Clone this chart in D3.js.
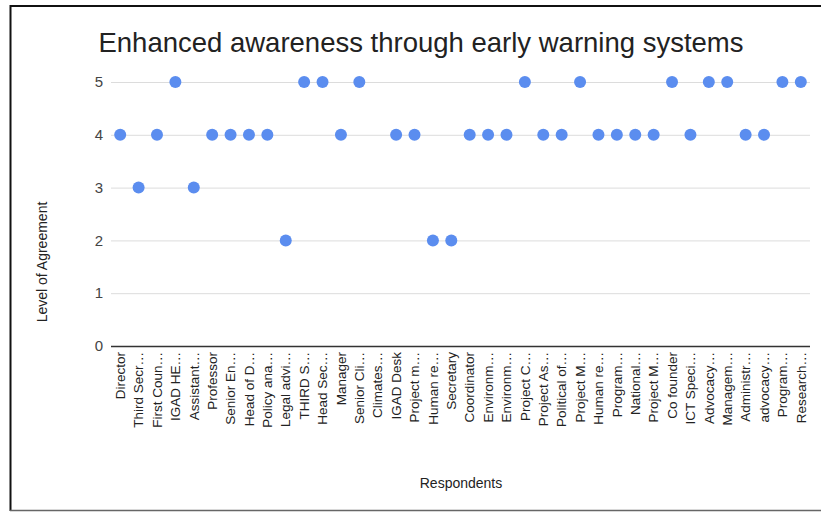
<!DOCTYPE html>
<html>
<head>
<meta charset="utf-8">
<script src="https://cdn.jsdelivr.net/npm/d3@7"></script>
<style>
  body { margin: 0; background: #fff; }
  svg { display: block; font-family: "Liberation Sans", Arial, sans-serif; }
</style>
</head>
<body>
<div id="chart"></div>
<script>
const respondents = [
  'Director', 'Third Secr…', 'First Coun…', 'IGAD HE…', 'Assistant…', 'Professor',
  'Senior En…', 'Head of D…', 'Policy ana…', 'Legal advi…', 'THIRD S…', 'Head Sec…',
  'Manager', 'Senior Cli…', 'Climates…', 'IGAD Desk', 'Project m…', 'Human re…',
  'Secretary', 'Coordinator', 'Environm…', 'Environm…', 'Project C…', 'Project As…',
  'Political of…', 'Project M…', 'Human re…', 'Program…', 'National…', 'Project M…',
  'Co founder', 'ICT Speci…', 'Advocacy…', 'Managem…', 'Administr…', 'advocacy…',
  'Program…', 'Research…'
];
const agreement = [
  4, 3, 4, 5, 3, 4, 4, 4, 4, 2, 5, 5,
  4, 5, null, 4, 4, 2, 2, 4, 4, 4, 5, 4,
  4, 5, 4, 4, 4, 4, 5, 4, 5, 5, 4, 4,
  5, 5
];
const yTicks = [0, 1, 2, 3, 4, 5];

const width = 821, height = 512;
const plotLeft = 111, plotRight = 810, plotTop = 82, plotBottom = 346;

const svg = d3.select('#chart').append('svg')
  .attr('width', width)
  .attr('height', height);

// frame
svg.append('line').attr('x1', 10.5).attr('x2', 10.5).attr('y1', 5).attr('y2', 511)
  .attr('stroke', '#111').attr('stroke-width', 2);
svg.append('line').attr('x1', 10).attr('x2', width).attr('y1', 6).attr('y2', 6)
  .attr('stroke', '#111').attr('stroke-width', 2);
svg.append('line').attr('x1', 10).attr('x2', width).attr('y1', 510.5).attr('y2', 510.5)
  .attr('stroke', '#666').attr('stroke-width', 1.5);

const x = d3.scalePoint()
  .domain(d3.range(respondents.length))
  .range([plotLeft, plotRight])
  .padding(0.5);
const y = d3.scaleLinear().domain([0, 5]).range([plotBottom, plotTop]);

// gridlines
svg.append('g').selectAll('line')
  .data(yTicks.filter(t => t > 0))
  .enter().append('line')
  .attr('x1', plotLeft).attr('x2', plotRight)
  .attr('y1', d => y(d) + 0.5).attr('y2', d => y(d) + 0.5)
  .attr('stroke', '#dcdcdc');

// y tick labels
svg.append('g').selectAll('text')
  .data(yTicks)
  .enter().append('text')
  .attr('x', 103)
  .attr('y', d => y(d))
  .attr('dy', '0.35em')
  .attr('text-anchor', 'end')
  .attr('font-size', 15)
  .attr('fill', '#444')
  .text(d => d);

// x axis baseline
svg.append('line')
  .attr('x1', plotLeft).attr('x2', plotRight)
  .attr('y1', plotBottom + 0.5).attr('y2', plotBottom + 0.5)
  .attr('stroke', '#333').attr('stroke-width', 1.5);

// x labels
svg.append('g').selectAll('text')
  .data(respondents)
  .enter().append('text')
  .attr('transform', (d, i) => `translate(${x(i)},352) rotate(-90)`)
  .attr('dy', '0.35em')
  .attr('text-anchor', 'end')
  .attr('font-size', 13.5)
  .attr('fill', '#222')
  .text(d => d);

// points
svg.append('g').selectAll('circle')
  .data(agreement.map((v, i) => ({ i, v })).filter(d => d.v !== null))
  .enter().append('circle')
  .attr('cx', d => x(d.i))
  .attr('cy', d => y(d.v))
  .attr('r', 6)
  .attr('fill', '#5b8def');

// titles
svg.append('text')
  .attr('x', 421).attr('y', 52)
  .attr('text-anchor', 'middle')
  .attr('font-size', 27.5)
  .attr('fill', '#222')
  .text('Enhanced awareness through early warning systems');

svg.append('text')
  .attr('x', 461).attr('y', 488)
  .attr('text-anchor', 'middle')
  .attr('font-size', 14)
  .attr('fill', '#222')
  .text('Respondents');

svg.append('text')
  .attr('transform', 'translate(47,262) rotate(-90)')
  .attr('text-anchor', 'middle')
  .attr('font-size', 14)
  .attr('fill', '#222')
  .text('Level of Agreement');
</script>
</body>
</html>
